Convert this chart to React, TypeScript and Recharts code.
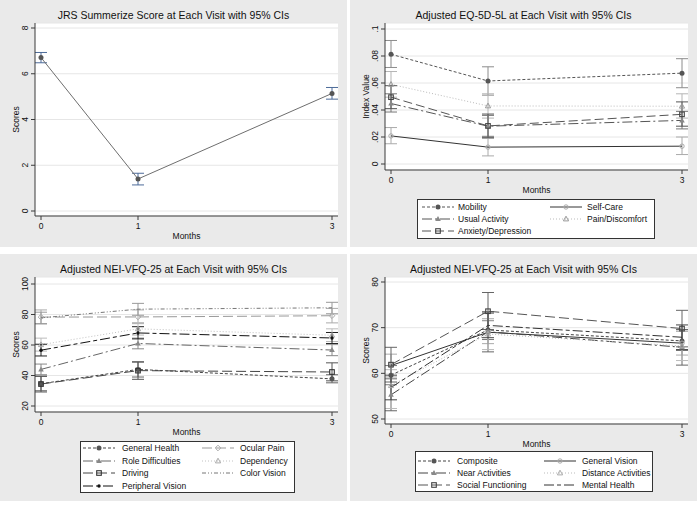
import { CartesianGrid, ErrorBar, Line, LineChart, XAxis, YAxis } from "recharts";

const FONT = '"Liberation Sans", Arial, Helvetica, sans-serif';
const PANEL_BG = "#eaeaea";
const AXIS = "#3a3a3a";
const GRID = "#e6e6e6";
const PW = 347;
const PH = 247;

const months = [0, 1, 3];

// JRS summary score
const jrsMean = [6.71, 1.4, 5.14];
const jrsLow = [6.48, 1.14, 4.89];
const jrsHigh = [6.93, 1.65, 5.4];
const jrsTicks = [0, 2, 4, 6, 8];

// EQ-5D-5L
const mobilityMean = [0.0813, 0.0615, 0.0673];
const mobilityLow = [0.0715, 0.051, 0.0565];
const mobilityHigh = [0.0915, 0.072, 0.078];
const selfCareMean = [0.0208, 0.0125, 0.0132];
const selfCareLow = [0.015, 0.006, 0.007];
const selfCareHigh = [0.027, 0.019, 0.02];
const usualMean = [0.0448, 0.028, 0.0323];
const usualLow = [0.0385, 0.0205, 0.026];
const usualHigh = [0.052, 0.036, 0.039];
const painMean = [0.059, 0.043, 0.0428];
const painLow = [0.0495, 0.034, 0.034];
const painHigh = [0.0685, 0.052, 0.052];
const anxietyMean = [0.0495, 0.0282, 0.0368];
const anxietyLow = [0.041, 0.0195, 0.028];
const anxietyHigh = [0.058, 0.037, 0.046];
const eqTicks = [0, 0.02, 0.04, 0.06, 0.08, 0.1];

// NEI-VFQ-25 (left)
const genHealthMean = [34.6, 44, 37.8];
const genHealthLow = [30, 39, 35.2];
const genHealthHigh = [39.5, 49, 40.5];
const ocularPainMean = [78.3, 78.4, 79.2];
const ocularPainLow = [73.8, 74, 74.5];
const ocularPainHigh = [83, 83, 84];
const roleMean = [44, 61, 56.7];
const roleLow = [40.5, 57.5, 53];
const roleHigh = [47.5, 64.5, 60.5];
const dependencyMean = [60.2, 70.6, 66.4];
const dependencyLow = [56, 66.5, 62.3];
const dependencyHigh = [64.5, 74.7, 70.6];
const drivingMean = [34.4, 43.2, 42.3];
const drivingLow = [29.2, 37.5, 36.5];
const drivingHigh = [39.5, 48.8, 48.3];
const colorVisionMean = [77.8, 83.5, 84.4];
const colorVisionLow = [74, 79.5, 80.5];
const colorVisionHigh = [81.5, 87.3, 88];
const peripheralMean = [56.6, 67.9, 64.6];
const peripheralLow = [52.8, 64, 61];
const peripheralHigh = [60.5, 72, 68.2];
const vfqLeftTicks = [20, 40, 60, 80, 100];

// NEI-VFQ-25 (right)
const compositeMean = [59.6, 69.5, 67.1];
const compositeLow = [57.5, 67.4, 65];
const compositeHigh = [61.7, 71.6, 69.2];
const genVisionMean = [61.7, 69, 66.6];
const genVisionLow = [59.2, 66.5, 64];
const genVisionHigh = [64.2, 71.5, 69.2];
const nearMean = [55.3, 69.1, 65.7];
const nearLow = [51.8, 64.7, 61.8];
const nearHigh = [58.8, 73.5, 69.6];
const distanceMean = [57.3, 68.6, 66];
const distanceLow = [52.3, 65.2, 62.8];
const distanceHigh = [60.8, 72, 69.2];
const socialMean = [61.9, 73.6, 69.8];
const socialLow = [58.1, 69.6, 65.8];
const socialHigh = [65.7, 77.7, 73.8];
const mentalMean = [56.9, 70.5, 67.9];
const mentalLow = [54.2, 67.8, 65.2];
const mentalHigh = [59.6, 73.2, 70.6];
const vfqRightTicks = [50, 60, 70, 80];

type MarkerKind = "circle" | "ocircle" | "triangle" | "otriangle" | "osquare" | "odiamond" | "dot" | "none";

interface Series {
  key: string;
  name: string;
  mean: number[];
  low: number[];
  high: number[];
  color: string;
  dash?: string;
  marker: MarkerKind;
  markerColor: string;
  errColor: string;
}

interface LegendCfg {
  left: number;
  top: number;
  width: number;
  height: number;
  col1: number;
  col2: number;
  text1: number;
  text2: number;
  rows: number[];
}

interface PanelCfg {
  left: number;
  top: number;
  title: string;
  yLabel: string;
  yDomain: [number, number];
  yTicks: number[];
  yPad: { top: number; bottom: number };
  yFmt: (v: number) => string;
  plotBottom: number;
  series: Series[];
  legend?: LegendCfg;
}

function Marker({ kind, cx, cy, color }: { kind: MarkerKind; cx: number; cy: number; color: string }) {
  switch (kind) {
    case "circle":
      return <circle cx={cx} cy={cy} r={2.5} fill={color} />;
    case "ocircle":
      return <circle cx={cx} cy={cy} r={2.2} fill="none" stroke={color} strokeWidth={1} />;
    case "triangle":
      return <polygon points={`${cx},${cy - 3} ${cx - 2.8},${cy + 2} ${cx + 2.8},${cy + 2}`} fill={color} />;
    case "otriangle":
      return (
        <polygon
          points={`${cx},${cy - 2.8} ${cx - 2.6},${cy + 1.9} ${cx + 2.6},${cy + 1.9}`}
          fill="none"
          stroke={color}
          strokeWidth={1}
        />
      );
    case "osquare":
      return <rect x={cx - 2.3} y={cy - 2.3} width={4.6} height={4.6} fill="none" stroke={color} strokeWidth={1.1} />;
    case "odiamond":
      return (
        <polygon
          points={`${cx},${cy - 2.8} ${cx + 2.8},${cy} ${cx},${cy + 2.8} ${cx - 2.8},${cy}`}
          fill="none"
          stroke={color}
          strokeWidth={1}
        />
      );
    case "dot":
      return <circle cx={cx} cy={cy} r={1.7} fill={color} />;
    default:
      return <g />;
  }
}

function buildRows(series: Series[]) {
  return months.map((m, i) => {
    const row: Record<string, number | number[]> = { month: m };
    series.forEach((s) => {
      row[s.key] = s.mean[i];
      row[`${s.key}Err`] = [s.mean[i] - s.low[i], s.high[i] - s.mean[i]];
    });
    return row;
  });
}

const fmtPlain = (v: number) => `${v}`;
// Stata style: drop the leading zero
const fmtDecimal = (v: number) => (v === 0 ? "0" : v.toFixed(2).replace(/^0/, "").replace(/0$/, ""));

const YTick = (props: any) => {
  const { x, y, payload, fmt } = props;
  return (
    <text
      x={0}
      y={0}
      transform={`translate(${x - 1},${y}) rotate(-90)`}
      textAnchor="middle"
      fontSize={8.5}
      fill="#111"
      fontFamily={FONT}
    >
      {fmt(payload.value)}
    </text>
  );
};

function LegendBox({ cfg, series }: { cfg: LegendCfg; series: Series[] }) {
  return (
    <svg
      style={{ position: "absolute", left: cfg.left, top: cfg.top, overflow: "visible" }}
      width={cfg.width}
      height={cfg.height}
    >
      <rect x={0.5} y={0.5} width={cfg.width - 1} height={cfg.height - 1} fill="#fff" stroke="#333" strokeWidth={1} />
      {series.map((s, i) => {
        const col = i % 2;
        const row = Math.floor(i / 2);
        const sx = (col === 0 ? cfg.col1 : cfg.col2) - cfg.left;
        const tx = (col === 0 ? cfg.text1 : cfg.text2) - cfg.left;
        const y = cfg.rows[row] - cfg.top;
        return (
          <g key={s.key}>
            <line x1={sx} x2={sx + 32} y1={y} y2={y} stroke={s.color} strokeWidth={1} strokeDasharray={s.dash} />
            <Marker kind={s.marker} cx={sx + 16} cy={y} color={s.markerColor} />
            <text x={tx} y={y + 3} fontSize={8.5} fontFamily={FONT} fill="#111">
              {s.name}
            </text>
          </g>
        );
      })}
    </svg>
  );
}

function Panel({ cfg }: { cfg: PanelCfg }) {
  const rows = buildRows(cfg.series);
  const xAxisH = 26;
  return (
    <div style={{ position: "absolute", left: cfg.left, top: cfg.top, width: PW, height: PH, background: PANEL_BG }}>
      <div
        style={{
          position: "absolute",
          left: 0,
          top: 9,
          width: PW,
          textAlign: "center",
          fontSize: 10.5,
          lineHeight: "12px",
          fontFamily: FONT,
          color: "#111",
        }}
      >
        {cfg.title}
      </div>
      <LineChart
        width={PW}
        height={PH}
        data={rows}
        margin={{ top: 23, right: PW - 338, left: 0, bottom: PH - cfg.plotBottom - xAxisH }}
      >
        <CartesianGrid vertical={false} fill="#ffffff" stroke={GRID} />
        <XAxis
          type="number"
          dataKey="month"
          domain={[0, 3]}
          ticks={months}
          padding={{ left: 6, right: 6 }}
          height={xAxisH}
          tickSize={4}
          tickMargin={3}
          axisLine={{ stroke: AXIS }}
          tickLine={{ stroke: AXIS }}
          tick={{ fontSize: 8.5, fill: "#111", fontFamily: FONT }}
          label={{ value: "Months", position: "insideBottom", offset: 3, fontSize: 8.5, fill: "#111", fontFamily: FONT }}
        />
        <YAxis
          type="number"
          domain={cfg.yDomain}
          ticks={cfg.yTicks}
          padding={cfg.yPad}
          width={35}
          tickSize={4}
          tickMargin={2}
          axisLine={{ stroke: AXIS }}
          tickLine={{ stroke: AXIS }}
          tick={<YTick fmt={cfg.yFmt} />}
          label={{ value: cfg.yLabel, angle: -90, position: "center", dx: -2, fontSize: 8.5, fill: "#111", fontFamily: FONT }}
        />
        {cfg.series.map((s) => (
          <Line
            key={s.key}
            type="linear"
            dataKey={s.key}
            name={s.name}
            stroke={s.color}
            strokeWidth={1}
            strokeDasharray={s.dash}
            isAnimationActive={false}
            dot={(p: any) => (
              <Marker key={`${s.key}-${p.index}`} kind={s.marker} cx={p.cx} cy={p.cy} color={s.markerColor} />
            )}
            activeDot={false}
          >
            <ErrorBar
              dataKey={`${s.key}Err`}
              direction="y"
              width={6}
              strokeWidth={1}
              stroke={s.errColor}
              isAnimationActive={false}
            />
          </Line>
        ))}
      </LineChart>
      {cfg.legend && <LegendBox cfg={cfg.legend} series={cfg.series} />}
    </div>
  );
}

const jrsSeries: Series[] = [
  {
    key: "jrs",
    name: "JRS",
    mean: jrsMean,
    low: jrsLow,
    high: jrsHigh,
    color: "#6e6e6e",
    marker: "circle",
    markerColor: "#555",
    errColor: "#4d6b99",
  },
];

const eqSeries: Series[] = [
  { key: "mob", name: "Mobility", mean: mobilityMean, low: mobilityLow, high: mobilityHigh, color: "#555", dash: "3 2", marker: "circle", markerColor: "#555", errColor: "#8c8c8c" },
  { key: "self", name: "Self-Care", mean: selfCareMean, low: selfCareLow, high: selfCareHigh, color: "#333", marker: "ocircle", markerColor: "#aaa", errColor: "#aaa" },
  { key: "usual", name: "Usual Activity", mean: usualMean, low: usualLow, high: usualHigh, color: "#555", dash: "10 3 2 3", marker: "triangle", markerColor: "#888", errColor: "#777" },
  { key: "pain", name: "Pain/Discomfort", mean: painMean, low: painLow, high: painHigh, color: "#bbb", dash: "1 2", marker: "otriangle", markerColor: "#999", errColor: "#b5b5b5" },
  { key: "anx", name: "Anxiety/Depression", mean: anxietyMean, low: anxietyLow, high: anxietyHigh, color: "#555", dash: "9 4", marker: "osquare", markerColor: "#444", errColor: "#555" },
];

const vfqLeftSeries: Series[] = [
  { key: "gh", name: "General Health", mean: genHealthMean, low: genHealthLow, high: genHealthHigh, color: "#444", dash: "3 2", marker: "circle", markerColor: "#555", errColor: "#666" },
  { key: "op", name: "Ocular Pain", mean: ocularPainMean, low: ocularPainLow, high: ocularPainHigh, color: "#999", dash: "10 4", marker: "odiamond", markerColor: "#aaa", errColor: "#aaa" },
  { key: "rd", name: "Role Difficulties", mean: roleMean, low: roleLow, high: roleHigh, color: "#666", dash: "10 3 2 3", marker: "triangle", markerColor: "#888", errColor: "#888" },
  { key: "dep", name: "Dependency", mean: dependencyMean, low: dependencyLow, high: dependencyHigh, color: "#c2c2c2", dash: "1 2", marker: "otriangle", markerColor: "#aaa", errColor: "#bbb" },
  { key: "drv", name: "Driving", mean: drivingMean, low: drivingLow, high: drivingHigh, color: "#444", dash: "10 4", marker: "osquare", markerColor: "#333", errColor: "#555" },
  { key: "cv", name: "Color Vision", mean: colorVisionMean, low: colorVisionLow, high: colorVisionHigh, color: "#777", dash: "4 2 1 2 1 2", marker: "none", markerColor: "#777", errColor: "#999" },
  { key: "pv", name: "Peripheral Vision", mean: peripheralMean, low: peripheralLow, high: peripheralHigh, color: "#111", dash: "10 3 4 3", marker: "dot", markerColor: "#111", errColor: "#222" },
];

const vfqRightSeries: Series[] = [
  { key: "comp", name: "Composite", mean: compositeMean, low: compositeLow, high: compositeHigh, color: "#444", dash: "3 2", marker: "circle", markerColor: "#555", errColor: "#777" },
  { key: "gv", name: "General Vision", mean: genVisionMean, low: genVisionLow, high: genVisionHigh, color: "#333", marker: "ocircle", markerColor: "#aaa", errColor: "#aaa" },
  { key: "near", name: "Near Activities", mean: nearMean, low: nearLow, high: nearHigh, color: "#444", dash: "10 3 2 3", marker: "triangle", markerColor: "#888", errColor: "#666" },
  { key: "dist", name: "Distance Activities", mean: distanceMean, low: distanceLow, high: distanceHigh, color: "#bbb", dash: "1 2", marker: "otriangle", markerColor: "#aaa", errColor: "#bbb" },
  { key: "soc", name: "Social Functioning", mean: socialMean, low: socialLow, high: socialHigh, color: "#555", dash: "10 4", marker: "osquare", markerColor: "#444", errColor: "#666" },
  { key: "mh", name: "Mental Health", mean: mentalMean, low: mentalLow, high: mentalHigh, color: "#333", dash: "10 3 4 3", marker: "none", markerColor: "#333", errColor: "#444" },
];

const panels: PanelCfg[] = [
  {
    left: 0,
    top: 0,
    title: "JRS Summerize Score at Each Visit with 95% CIs",
    yLabel: "Scores",
    yDomain: [0, 8],
    yTicks: jrsTicks,
    yPad: { top: 5, bottom: 5 },
    yFmt: fmtPlain,
    plotBottom: 216,
    series: jrsSeries,
  },
  {
    left: 350,
    top: 0,
    title: "Adjusted EQ-5D-5L at Each Visit with 95% CIs",
    yLabel: "Index Value",
    yDomain: [0, 0.1],
    yTicks: eqTicks,
    yPad: { top: 6, bottom: 6 },
    yFmt: fmtDecimal,
    plotBottom: 170,
    series: eqSeries,
    legend: { left: 67, top: 199, width: 238, height: 40, col1: 72, col2: 200, text1: 108, text2: 237, rows: [207, 219, 231] },
  },
  {
    left: 0,
    top: 254,
    title: "Adjusted NEI-VFQ-25 at Each Visit with 95% CIs",
    yLabel: "Scores",
    yDomain: [20, 100],
    yTicks: vfqLeftTicks,
    yPad: { top: 7, bottom: 6 },
    yFmt: fmtPlain,
    plotBottom: 158,
    series: vfqLeftSeries,
    legend: { left: 80, top: 187, width: 215, height: 52, col1: 83, col2: 202, text1: 122, text2: 240, rows: [194, 207, 219, 232] },
  },
  {
    left: 350,
    top: 254,
    title: "Adjusted NEI-VFQ-25 at Each Visit with 95% CIs",
    yLabel: "Scores",
    yDomain: [50, 80],
    yTicks: vfqRightTicks,
    yPad: { top: 5, bottom: 5 },
    yFmt: fmtPlain,
    plotBottom: 170,
    series: vfqRightSeries,
    legend: { left: 65, top: 197, width: 238, height: 41, col1: 68, col2: 194, text1: 107, text2: 232, rows: [207, 219, 231] },
  },
];

export default function App() {
  return (
    <div style={{ position: "absolute", left: 0, top: 0, width: 700, height: 508, background: "#fff", fontFamily: FONT }}>
      {panels.map((p) => (
        <Panel key={`${p.left}-${p.top}`} cfg={p} />
      ))}
    </div>
  );
}
